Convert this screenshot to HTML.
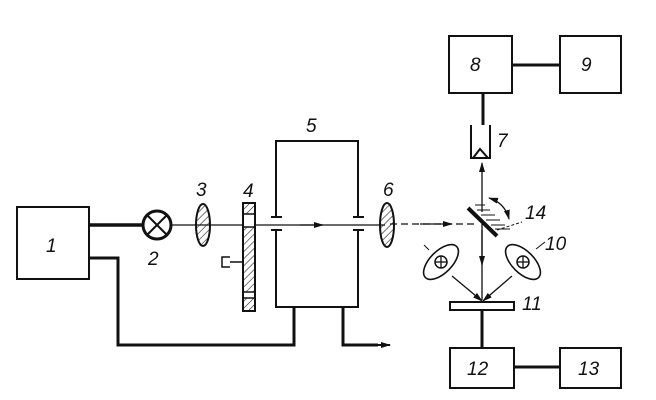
<!DOCTYPE html>
<html><head><meta charset="utf-8"><style>body{margin:0;background:#fff}svg{display:block}
text{font-family:"Liberation Sans",sans-serif;font-style:italic;font-size:19px;fill:#111}</style></head><body>
<svg width="656" height="400" viewBox="0 0 656 400" xmlns="http://www.w3.org/2000/svg">
<defs><pattern id="h" width="5" height="5" patternUnits="userSpaceOnUse" patternTransform="rotate(45)"><line x1="0" y1="0" x2="0" y2="5" stroke="#222" stroke-width="1.2"/></pattern>
<marker id="a" markerWidth="10" markerHeight="8" refX="9" refY="4" orient="auto" markerUnits="userSpaceOnUse"><path d="M0,1 L10,4 L0,7 Z" fill="#111"/></marker>
<marker id="b" markerWidth="10" markerHeight="8" refX="1" refY="4" orient="auto" markerUnits="userSpaceOnUse"><path d="M10,1 L0,4 L10,7 Z" fill="#111"/></marker></defs>
<g stroke="#111" fill="none" stroke-width="2">
<rect x="17" y="207" width="72" height="72"/>
<rect x="276" y="141" width="82" height="166"/>
<rect x="449" y="36" width="63" height="57"/>
<rect x="560" y="36" width="61" height="57"/>
<rect x="450" y="348" width="64" height="40"/>
<rect x="560" y="348" width="61" height="40"/>
</g>
<rect x="273" y="217" width="8" height="12" fill="#fff"/>
<rect x="355" y="217" width="8" height="12" fill="#fff"/>
<g stroke="#111" stroke-width="2"><line x1="271" y1="217" x2="282" y2="217"/><line x1="271" y1="230" x2="282" y2="230"/><line x1="353" y1="217" x2="364" y2="217"/><line x1="353" y1="230" x2="364" y2="230"/></g>
<g stroke="#111" fill="none">
<line x1="89" y1="225" x2="143" y2="225" stroke-width="3.5"/>
<polyline points="89,258 118,258 118,345 294,345 294,307" stroke-width="3"/>
<polyline points="343,307 343,345 378,345" stroke-width="3"/>
<line x1="171" y1="225" x2="385" y2="225" stroke-width="1.2"/>
<line x1="300" y1="225" x2="323" y2="225" stroke-width="1.2" marker-end="url(#a)"/>
<line x1="376" y1="345" x2="390" y2="345" stroke-width="2" marker-end="url(#a)"/>
<line x1="390" y1="224" x2="478" y2="224" stroke-width="1.2" stroke-dasharray="7,4"/>
<line x1="420" y1="224" x2="452" y2="224" stroke-width="1.2" marker-end="url(#a)"/>
<line x1="512" y1="65" x2="560" y2="65" stroke-width="3"/>
<line x1="514" y1="367" x2="560" y2="367" stroke-width="3"/>
<line x1="483" y1="93" x2="483" y2="125" stroke-width="3"/>
<line x1="482" y1="310" x2="482" y2="348" stroke-width="3"/>
<line x1="482" y1="212" x2="482" y2="163" stroke-width="1.3" marker-end="url(#a)"/>
<line x1="482" y1="224" x2="482" y2="300" stroke-width="1.3"/>
<line x1="482" y1="230" x2="482" y2="265" stroke-width="1.3" marker-end="url(#a)"/>
<line x1="452" y1="276" x2="482" y2="301" stroke-width="1.3" marker-end="url(#a)"/>
<line x1="512" y1="276" x2="483" y2="301" stroke-width="1.3" marker-end="url(#a)"/>
<line x1="468" y1="208" x2="497" y2="236" stroke-width="4"/>
<g stroke-width="1"><line x1="475" y1="205" x2="485" y2="205"/><line x1="477" y1="210" x2="490" y2="210"/><line x1="481" y1="215" x2="495" y2="215"/><line x1="486" y1="220" x2="500" y2="220"/><line x1="491" y1="225" x2="505" y2="225"/><line x1="495" y1="229" x2="510" y2="229"/></g>
<line x1="497" y1="230" x2="522" y2="222" stroke-width="1" stroke-dasharray="3,2"/>
<path d="M489,198 Q505,203 509,219" stroke-width="1.3" marker-start="url(#b)" marker-end="url(#a)"/>
<rect x="450" y="302" width="64" height="8" stroke-width="2" fill="#fff"/>
<path d="M471,125 V158 H490 V125" stroke-width="2"/>
<path d="M473,158 L480,149 L488,158" stroke-width="2"/>
<circle cx="157" cy="225" r="14" stroke-width="3" fill="#fff"/>
<line x1="147" y1="215" x2="167" y2="235" stroke-width="2"/><line x1="167" y1="215" x2="147" y2="235" stroke-width="2"/>
<ellipse cx="203" cy="225" rx="7" ry="21" stroke-width="2" fill="url(#h)"/>
<ellipse cx="387" cy="225" rx="7" ry="22" stroke-width="2" fill="url(#h)"/>
<rect x="243" y="203" width="12" height="108" stroke-width="2" fill="url(#h)"/>
<rect x="244" y="214" width="10" height="13" fill="#fff" stroke="none"/>
<rect x="244" y="292" width="10" height="6" fill="#fff" stroke="none"/>
<line x1="243" y1="214" x2="255" y2="214" stroke-width="1.5"/><line x1="243" y1="227" x2="255" y2="227" stroke-width="1.5"/>
<line x1="243" y1="292" x2="255" y2="292" stroke-width="1.5"/><line x1="243" y1="298" x2="255" y2="298" stroke-width="1.5"/>
<line x1="230" y1="262" x2="243" y2="262" stroke-width="1.5"/>
<path d="M230,257 H222 V267 H230" stroke-width="1.5"/>
<ellipse cx="441" cy="262" rx="11" ry="22" transform="rotate(45 441 262)" stroke-width="1.6" fill="#fff"/>
<ellipse cx="523" cy="262" rx="11" ry="22" transform="rotate(-45 523 262)" stroke-width="1.6" fill="#fff"/>
<circle cx="441" cy="262" r="6" stroke-width="1.5"/><line x1="441" y1="256" x2="441" y2="268" stroke-width="1.3"/><line x1="435" y1="262" x2="447" y2="262" stroke-width="1.3"/>
<circle cx="523" cy="262" r="6" stroke-width="1.5"/><line x1="523" y1="256" x2="523" y2="268" stroke-width="1.3"/><line x1="517" y1="262" x2="529" y2="262" stroke-width="1.3"/>
<line x1="424" y1="245" x2="429" y2="250" stroke-width="1"/>
<line x1="536" y1="249" x2="545" y2="242" stroke-width="1"/>
</g>
<text x="46" y="252">1</text>
<text x="148" y="265">2</text>
<text x="196" y="196">3</text>
<text x="243" y="197">4</text>
<text x="306" y="132">5</text>
<text x="383" y="196">6</text>
<text x="497" y="147">7</text>
<text x="470" y="71">8</text>
<text x="581" y="71">9</text>
<text x="545" y="250">10</text>
<text x="522" y="310">11</text>
<text x="467" y="375">12</text>
<text x="578" y="375">13</text>
<text x="525" y="219">14</text>
</svg>
</body></html>
